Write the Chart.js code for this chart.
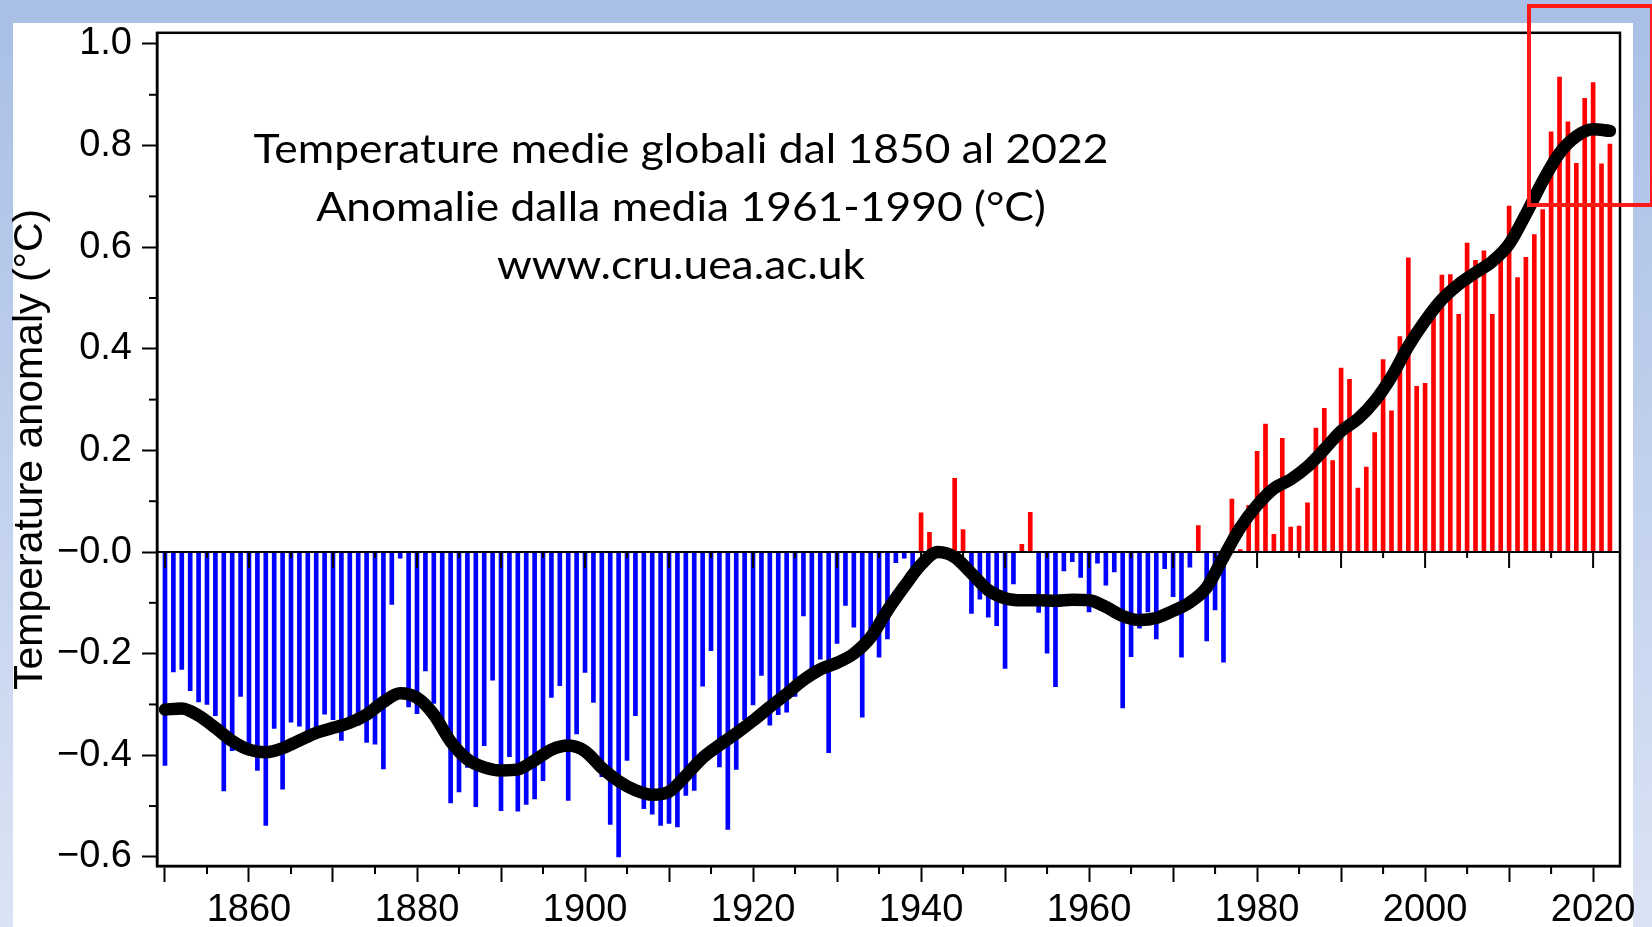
<!DOCTYPE html>
<html>
<head>
<meta charset="utf-8">
<script src="https://cdn.jsdelivr.net/npm/chart.js@4.4.0/dist/chart.umd.min.js"></script>
<style>
  html, body { margin: 0; padding: 0; }
  body {
    width: 1652px; height: 927px; overflow: hidden; position: relative;
    background: linear-gradient(to bottom, #a9bfe6 0%, #c3d2ee 55%, #dbe4f4 100%);
  }
  #panel { position: absolute; left: 13px; top: 23px; width: 1620px; height: 904px; background: #fff; }
  #wrap { position: absolute; left: 0; top: 0; width: 1652px; height: 927px; }
  #mark { position: absolute; left: 1527px; top: 4px; width: 119px; height: 195px; border: 4px solid #ff1a1a; }
</style>
</head>
<body>
<div id="panel"></div>
<div id="wrap"><canvas id="chart" width="1652" height="927"></canvas></div>
<div id="mark"></div>
<script>
// Annual anomalies vs 1961-1990 (°C), 1850 .. 2022
const firstYear = 1850;
const anomalies = [
  -0.420, -0.236, -0.231, -0.273, -0.295, -0.300, -0.322, -0.470, -0.391, -0.284, // 1850s
  -0.395, -0.430, -0.538, -0.347, -0.467, -0.335, -0.343, -0.358, -0.352, -0.319, // 1860s
  -0.330, -0.371, -0.327, -0.341, -0.375, -0.378, -0.427, -0.103, -0.012, -0.305, // 1870s
  -0.318, -0.234, -0.298, -0.346, -0.494, -0.472, -0.424, -0.501, -0.381, -0.252, // 1880s
  -0.509, -0.403, -0.510, -0.497, -0.486, -0.450, -0.286, -0.263, -0.489, -0.358, // 1890s
  -0.237, -0.296, -0.442, -0.536, -0.600, -0.410, -0.322, -0.505, -0.516, -0.538, // 1900s
  -0.534, -0.541, -0.479, -0.469, -0.264, -0.194, -0.423, -0.546, -0.428, -0.330, // 1910s
  -0.301, -0.243, -0.341, -0.320, -0.315, -0.284, -0.126, -0.230, -0.211, -0.395, // 1920s
  -0.180, -0.105, -0.148, -0.325, -0.175, -0.207, -0.171, -0.021, -0.012, -0.038, // 1930s
   0.077,  0.039,  0.002,  0.006,  0.145,  0.044, -0.121, -0.093, -0.128, -0.145, // 1940s
  -0.229, -0.063,  0.015,  0.078, -0.119, -0.199, -0.265, -0.037, -0.019, -0.050, // 1950s
  -0.118, -0.022, -0.065, -0.039, -0.307, -0.206, -0.150, -0.118, -0.171, -0.033, // 1960s
  -0.088, -0.207, -0.030,  0.052, -0.175, -0.114, -0.217,  0.104,  0.005,  0.092, // 1970s
   0.198,  0.252,  0.035,  0.224,  0.049,  0.051,  0.097,  0.244,  0.283,  0.180, // 1980s
   0.362,  0.340,  0.126,  0.167,  0.235,  0.379,  0.278,  0.424,  0.579,  0.326, // 1990s
   0.332,  0.491,  0.545,  0.546,  0.468,  0.608,  0.574,  0.593,  0.468,  0.595, // 2000s
   0.681,  0.540,  0.580,  0.625,  0.674,  0.827,  0.935,  0.847,  0.765,  0.893, // 2010s
   0.924,  0.764,  0.803                                                          // 2020s
];
const years = anomalies.map((v, i) => firstYear + i);

// smoothed curve, every 2 years
const smoothYears = [
  1850, 1852, 1854, 1856, 1858, 1860, 1862, 1864, 1866, 1868, 1870, 1872, 1874, 1876, 1878,
  1880, 1882, 1884, 1886, 1888, 1890, 1892, 1894, 1896, 1898, 1900, 1902, 1904, 1906, 1908,
  1910, 1912, 1914, 1916, 1918, 1920, 1922, 1924, 1926, 1928, 1930, 1932, 1934, 1936, 1938,
  1940, 1942, 1944, 1946, 1948, 1950, 1952, 1954, 1956, 1958, 1960, 1962, 1964, 1966, 1968,
  1970, 1972, 1974, 1976, 1978, 1980, 1982, 1984, 1986, 1988, 1990, 1992, 1994, 1996, 1998,
  2000, 2002, 2004, 2006, 2008, 2010, 2012, 2014, 2016, 2018, 2020, 2022
];
const smoothValues = [
  -0.310, -0.308, -0.322, -0.346, -0.372, -0.389, -0.394, -0.386, -0.371, -0.356, -0.346, -0.336, -0.320, -0.295, -0.278,
  -0.287, -0.320, -0.373, -0.408, -0.424, -0.430, -0.428, -0.410, -0.389, -0.381, -0.392, -0.425, -0.451, -0.469, -0.478,
  -0.472, -0.440, -0.405, -0.380, -0.357, -0.332, -0.305, -0.279, -0.252, -0.231, -0.218, -0.200, -0.168, -0.115, -0.068,
  -0.025,  0.000, -0.010, -0.042, -0.075, -0.091, -0.095, -0.095, -0.096, -0.094, -0.095, -0.108, -0.126, -0.134, -0.130,
  -0.116, -0.099, -0.070, -0.010,  0.048,  0.092,  0.125,  0.143,  0.168,  0.202,  0.238,  0.262,  0.297,  0.345,  0.405,
   0.455,  0.497,  0.527,  0.550,  0.572,  0.606,  0.665,  0.730,  0.785,  0.818,  0.832,  0.829
];

const labelYears = [1860, 1880, 1900, 1920, 1940, 1960, 1980, 2000, 2020];
const minorYearTicks = [1855, 1865, 1875, 1885, 1895, 1905, 1915, 1925, 1935, 1945, 1955, 1965, 1975, 1985, 1995, 2005, 2015];
const minorValueTicks = [-0.5, -0.3, -0.1, 0.1, 0.3, 0.5, 0.7, 0.9];
const zeroLineTicks = [1850, 1855, 1860, 1865, 1870, 1875, 1880, 1885, 1890, 1895, 1900, 1905, 1910, 1915,
  1920, 1925, 1930, 1935, 1940, 1945, 1950, 1955, 1960, 1965, 1970, 1975, 1980, 1985, 1990, 1995,
  2000, 2005, 2010, 2015, 2020];

const titleLines = [
  'Temperature medie globali dal 1850 al 2022',
  'Anomalie dalla media 1961-1990 (°C)',
  'www.cru.uea.ac.uk'
];

const axisFont = "'Liberation Sans', Arial, Helvetica, sans-serif";

function fmtValue(v) {
  if (Math.abs(v) < 1e-9) return '\u22120.0';
  return v < 0 ? '\u2212' + Math.abs(v).toFixed(1) : v.toFixed(1);
}

// zero line with its little ticks, drawn over the bars but under the curve
const zeroLine = {
  id: 'zeroLine',
  afterDatasetDraw(chart, args) {
    if (args.index !== 0) return;
    const { ctx, chartArea: a, scales: { x, y } } = chart;
    const y0 = y.getPixelForValue(0);
    ctx.save();
    ctx.strokeStyle = '#000';
    ctx.lineWidth = 2;
    ctx.beginPath();
    ctx.moveTo(a.left, y0);
    ctx.lineTo(a.right, y0);
    ctx.stroke();
    zeroLineTicks.forEach(yr => {
      const px = x.getPixelForValue(yr);
      ctx.beginPath();
      ctx.moveTo(px, y0);
      ctx.lineTo(px, y0 + (yr % 10 === 0 ? 16 : 6));
      ctx.stroke();
    });
    ctx.restore();
  }
};

// frame, minor ticks and the caption
const decorations = {
  id: 'decorations',
  afterDraw(chart) {
    const { ctx, chartArea: a, scales: { x, y } } = chart;
    ctx.save();
    ctx.strokeStyle = '#000';
    ctx.lineWidth = 2.5;
    ctx.strokeRect(a.left, a.top, a.right - a.left, a.bottom - a.top);

    ctx.lineWidth = 2;
    minorYearTicks.forEach(yr => {
      const px = x.getPixelForValue(yr);
      ctx.beginPath();
      ctx.moveTo(px, a.bottom);
      ctx.lineTo(px, a.bottom + 8);
      ctx.stroke();
    });
    minorValueTicks.forEach(v => {
      const py = y.getPixelForValue(v);
      ctx.beginPath();
      ctx.moveTo(a.left - 8, py);
      ctx.lineTo(a.left, py);
      ctx.stroke();
    });

    // caption in the upper left of the plot
    ctx.fillStyle = '#000';
    ctx.font = "40px Lato, 'Open Sans', sans-serif";
    ctx.textAlign = 'center';
    ctx.textBaseline = 'alphabetic';
    const sx = 855 / ctx.measureText(titleLines[0]).width;
    titleLines.forEach((line, i) => {
      ctx.save();
      ctx.translate(681, 163 + i * 58);
      ctx.scale(sx, 1);
      ctx.fillText(line, 0, 0);
      ctx.restore();
    });
    ctx.restore();
  }
};

new Chart(document.getElementById('chart'), {
  type: 'bar',
  data: {
    datasets: [
      {
        type: 'bar',
        data: years.map((yr, i) => ({ x: yr, y: anomalies[i] })),
        backgroundColor: anomalies.map(v => v >= 0 ? '#ff0000' : '#0000ff'),
        barThickness: 4,
        grouped: false,
        order: 1
      },
      {
        type: 'line',
        data: smoothYears.map((yr, i) => ({ x: yr, y: smoothValues[i] })),
        borderColor: '#000',
        borderWidth: 12.5,
        pointRadius: 0,
        cubicInterpolationMode: 'monotone',
        borderCapStyle: 'round',
        borderJoinStyle: 'round',
        order: 0
      }
    ]
  },
  options: {
    responsive: false,
    animation: false,
    layout: { padding: { left: 13, right: 32, top: 30, bottom: 0 } },
    plugins: {
      legend: { display: false },
      tooltip: { enabled: false }
    },
    scales: {
      x: {
        type: 'linear',
        min: 1849.05,
        max: 2023.2,
        offset: false,
        grid: { drawOnChartArea: false, offset: false, tickLength: 16, tickWidth: 2, tickColor: '#000' },
        border: { display: true, color: '#000', width: 2.5 },
        ticks: {
          stepSize: 10,
          includeBounds: false,
          autoSkip: false,
          maxRotation: 0,
          padding: 6,
          color: '#000',
          font: { family: axisFont, size: 38, lineHeight: 1.2 },
          callback: v => labelYears.includes(Math.round(v)) ? String(Math.round(v)) : ''
        },
        afterFit: s => { s.height = 61; }
      },
      y: {
        min: -0.618,
        max: 1.022,
        grid: { drawOnChartArea: false, tickLength: 15, tickWidth: 2, tickColor: '#000' },
        border: { display: true, color: '#000', width: 2.5 },
        ticks: {
          stepSize: 0.2,
          includeBounds: false,
          padding: 10,
          color: '#000',
          font: { family: axisFont, size: 38 },
          callback: v => fmtValue(v)
        },
        title: {
          display: true,
          text: 'Temperature anomaly (°C)',
          color: '#000',
          font: { family: axisFont, size: 41, lineHeight: 0.8 },
          padding: { top: 1, bottom: 0 }
        },
        afterFit: s => { s.width = 144; }
      }
    }
  },
  plugins: [zeroLine, decorations]
});
</script>
</body>
</html>
